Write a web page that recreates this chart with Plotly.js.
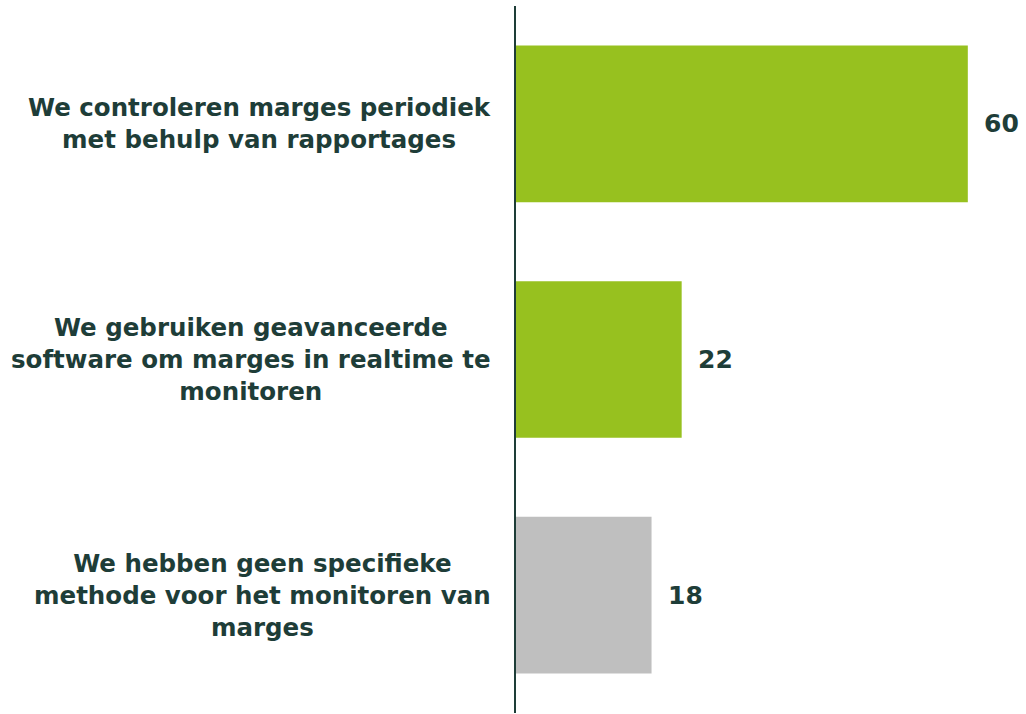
<!DOCTYPE html>
<html>
<head>
<meta charset="utf-8">
<script src="https://cdn.plot.ly/plotly-3.0.1.min.js"></script>
<style>
  html, body { margin: 0; padding: 0; background: #fff; }
  #chart { width: 1026px; height: 714px; }
</style>
</head>
<body>
<div id="chart"></div>
<script>
// data
let categories = [
  "We controleren marges periodiek<br>met behulp van rapportages",
  "We gebruiken geavanceerde<br>software om marges in realtime te<br>monitoren",
  "We hebben geen specifieke<br>methode voor het monitoren van<br>marges"
];
let values = [60, 22, 18];
let bar_colors = ["#97c11f", "#97c11f", "#bfbfbf"];

let text_color = "#1e3d38";
let font_family = "'DejaVu Sans', sans-serif";

let trace = {
  type: "bar",
  orientation: "h",
  x: values,
  y: categories,
  marker: { color: bar_colors },
  width: 0.665,
  hoverinfo: "none",
};

let annotations = [];
for (let i = 0; i < categories.length; i++) {
  // category label left of the axis, centred lines
  annotations.push({
    xref: "paper",
    yref: "y",
    x: 0,
    y: categories[i],
    xanchor: "right",
    yanchor: "middle",
    xshift: -23,
    align: "center",
    showarrow: false,
    text: categories[i],
    font: { family: font_family, size: 24.5, color: text_color, weight: "bold" },
  });
  // value label after the bar
  annotations.push({
    xref: "x",
    yref: "y",
    x: values[i],
    y: categories[i],
    xanchor: "left",
    yanchor: "middle",
    xshift: 14,
    showarrow: false,
    text: String(values[i]),
    font: { family: font_family, size: 25, color: text_color, weight: "bold" },
  });
}

let layout = {
  width: 1026,
  height: 714,
  margin: { l: 516, r: 13, t: 6, b: 1 },
  paper_bgcolor: "#ffffff",
  plot_bgcolor: "#ffffff",
  showlegend: false,
  xaxis: {
    range: [0, 66],
    showgrid: false,
    zeroline: false,
    showticklabels: false,
    showline: false,
  },
  yaxis: {
    autorange: false,
    range: [2.5, -0.5],
    showgrid: false,
    zeroline: false,
    showticklabels: false,
    showline: true,
    linecolor: "#1e3d38",
    linewidth: 2,
  },
  annotations: annotations,
};

Plotly.newPlot("chart", [trace], layout, { staticPlot: true });
</script>
</body>
</html>
